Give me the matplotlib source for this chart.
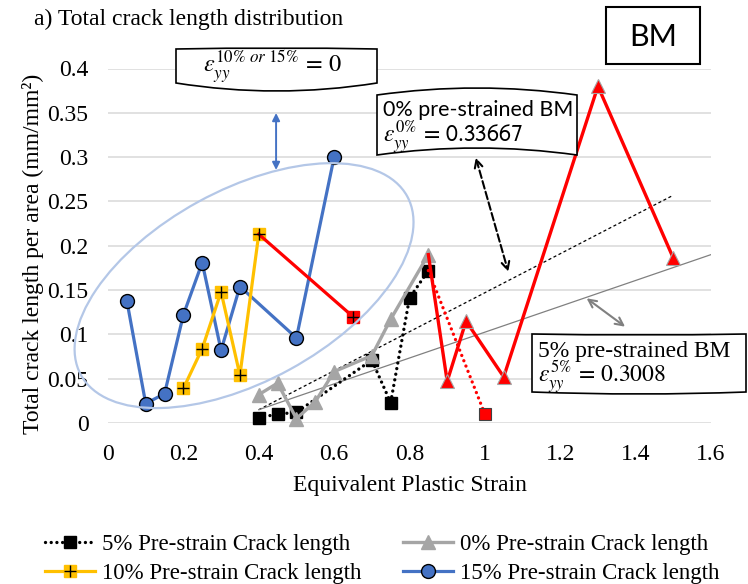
import matplotlib
matplotlib.use('Agg')
import matplotlib.pyplot as plt
from matplotlib.patches import Ellipse, PathPatch, Rectangle
from matplotlib.path import Path
from matplotlib.transforms import ScaledTranslation
from matplotlib.lines import Line2D
from matplotlib.ticker import FuncFormatter, MultipleLocator

plt.rcParams['font.family'] = ['Liberation Serif', 'DejaVu Serif']
plt.rcParams['mathtext.fontset'] = 'stix'

# ---------------- data ----------------
x5 = [0.4, 0.45, 0.5, 0.7, 0.75, 0.8, 0.85]
y5 = [0.006, 0.010, 0.012, 0.071, 0.023, 0.141, 0.172]
x5_red = [0.85, 1.0]
y5_red = [0.172, 0.010]

x0 = [0.4, 0.45, 0.5, 0.55, 0.6, 0.7, 0.75, 0.85]
y0 = [0.032, 0.045, 0.005, 0.024, 0.058, 0.076, 0.117, 0.190]
x0_red = [0.85, 0.9, 0.95, 1.05, 1.3, 1.5]
y0_red = [0.190, 0.047, 0.115, 0.052, 0.380, 0.186]

x10 = [0.2, 0.25, 0.3, 0.35, 0.4]
y10 = [0.039, 0.084, 0.148, 0.054, 0.213]
x10_red = [0.4, 0.65]
y10_red = [0.213, 0.120]

x15 = [0.05, 0.1, 0.15, 0.2, 0.25, 0.3, 0.35, 0.5, 0.6]
y15 = [0.138, 0.022, 0.033, 0.122, 0.181, 0.082, 0.154, 0.096, 0.300]

trend0_x = [0.4, 1.5]
trend0_y = [0.015, 0.257]
trend5_x = [0.4, 1.6]
trend5_y = [0.015, 0.190]

labels = ['5% Pre-strain Crack length', '10% Pre-strain Crack length',
          '0% Pre-strain Crack length', '15% Pre-strain Crack length']

BLUE = '#4472C4'
YEL = '#FFC000'
GRAY = '#A5A5A5'
RED = '#FF0000'

W, H = 748, 584
fig = plt.figure(figsize=(W / 100, H / 100), dpi=100)
ax = fig.add_axes([108 / W, 1 - 423 / H, (711 - 108) / W, (423 - 68.5) / H])

def fp(x, y):
    return (x / W, 1 - y / H)

ax.set_xlim(0, 1.6)
ax.set_ylim(0, 0.4)
for s in ax.spines.values():
    s.set_visible(False)
ax.yaxis.set_major_locator(MultipleLocator(0.05))
ax.xaxis.set_major_locator(MultipleLocator(0.2))
fmt = FuncFormatter(lambda v, p: ('%.2f' % v).rstrip('0').rstrip('.') if v != 0 else '0')
ax.xaxis.set_major_formatter(fmt)
ax.yaxis.set_major_formatter(fmt)
ax.tick_params(axis='both', length=0, labelsize=17)
ax.tick_params(axis='y', pad=14)
ax.tick_params(axis='x', pad=15)
ax.grid(axis='y', color='#D9D9D9', lw=1.1)
ax.set_axisbelow(True)
ax.set_xlabel('Equivalent Plastic Strain', fontsize=17, labelpad=7)
ax.set_ylabel('Total crack length per area (mm/mm\u00b2)', fontsize=17)
ax.yaxis.set_label_coords(-0.106, 0.477)

# trend lines
ax.plot(trend0_x, trend0_y, color='black', lw=0.9, ls=(0, (2.5, 2)), zorder=3)
ax.plot(trend5_x, trend5_y, color='#808080', lw=0.9, zorder=3)

# 15% series
ax.plot(x15, y15, color=BLUE, lw=2.3, marker='o', ms=10, mfc=BLUE, mec='black',
        mew=1.0, zorder=4, clip_on=False)
# 10% series
ax.plot(x10, y10, color=YEL, lw=2.3, marker='s', ms=9, mfc=YEL, mec=YEL, zorder=5, clip_on=False)
ax.plot(x10, y10, ls='none', marker='+', ms=9, mec='black', mew=1.0, zorder=5.1, clip_on=False)
ax.plot(x10_red, y10_red, color=RED, lw=2.3, zorder=5)
ax.plot(x10_red[1:], y10_red[1:], ls='none', marker='s', ms=9, mfc=RED, mec=RED, zorder=5.2)
ax.plot(x10_red[1:], y10_red[1:], ls='none', marker='+', ms=9, mec='black', mew=1.0, zorder=5.3)
# 5% series
ax.plot(x5, y5, color='black', lw=2.4, ls=(0, (0.01, 1.7)), dash_capstyle='round',
        marker='s', ms=8, mfc='black', mec='black', zorder=6, clip_on=False)
ax.plot(x5_red, y5_red, color=RED, lw=2.4, ls=(0, (0.01, 1.7)), dash_capstyle='round', zorder=6)
ax.plot(x5_red[1:], y5_red[1:], ls='none', marker='s', ms=8, mfc=RED, mec='#404040',
        mew=0.8, zorder=6.1, clip_on=False)
# 0% series
ax.plot(x0, y0, color=GRAY, lw=2.4, marker='^', ms=10.5, mfc=GRAY, mec=GRAY, zorder=7, clip_on=False)
ax.plot(x0_red, y0_red, color=RED, lw=2.4, zorder=7.5)
ax.plot(x0_red[1:], y0_red[1:], ls='none', marker='^', ms=10.5, mfc=RED, mec=GRAY, mew=0.8,
        zorder=7.6, clip_on=False)

# ellipse around 10%/15% data (drawn in inches around a data-anchored centre)
ell_t = fig.dpi_scale_trans + ScaledTranslation(0.361, 0.155, ax.transData)
ax.add_patch(Ellipse((0, 0), 3.72, 1.91, angle=28.7, fill=False, ec='#B4C7E7', lw=1.6,
                     transform=ell_t, zorder=9, clip_on=False))

# arrows
ax.annotate('', xy=(0.446, 0.2855), xytext=(0.446, 0.3498),
            arrowprops=dict(arrowstyle='<|-|>', color=BLUE, lw=1.4, mutation_scale=11,
                            shrinkA=0, shrinkB=0), zorder=10)
ax.annotate('', xy=(1.062, 0.1707), xytext=(0.976, 0.2994),
            arrowprops=dict(arrowstyle='<->', color='black', lw=1.5, ls='--',
                            mutation_scale=14, shrinkA=0, shrinkB=0), zorder=10)
ax.annotate('', xy=(1.372, 0.1087), xytext=(1.27, 0.1407),
            arrowprops=dict(arrowstyle='<->', color='#808080', lw=1.5,
                            mutation_scale=14, shrinkA=0, shrinkB=0), zorder=10)

# wavy text boxes (in pixel coords)
def wavy_box(x0p, x1p, ytop, ybot, top_bow, bot_bow):
    xm = (x0p + x1p) / 2
    verts = [fp(x0p, ytop), fp(xm, ytop + 2 * top_bow), fp(x1p, ytop),
             fp(x1p, ybot), fp(xm, ybot + 2 * bot_bow), fp(x0p, ybot), fp(x0p, ytop)]
    codes = [Path.MOVETO, Path.CURVE3, Path.CURVE3, Path.LINETO, Path.CURVE3, Path.CURVE3,
             Path.CLOSEPOLY]
    fig.add_artist(PathPatch(Path(verts, codes), fc='white', ec='black', lw=1.2,
                             transform=fig.transFigure, zorder=20))

wavy_box(176, 377, 49, 83, -1, 8)
fig.text(*fp(273, 67), r'$\varepsilon_{yy}^{10\%\ or\ 15\%}\,=\,0$', fontsize=17.5,
         ha='center', va='center', zorder=21)

wavy_box(377, 577, 95, 155, -7, -7)
fig.text(*fp(383, 110), '0% pre-strained BM', family='Lato', fontsize=15.5,
         ha='left', va='center', zorder=21)
fig.text(*fp(383, 137), r'$\varepsilon_{yy}^{0\%}\,=\,\mathsf{0.33667}$', fontsize=17,
         ha='left', va='center', zorder=21)

wavy_box(532, 746, 334, 392, 1, 2)
fig.text(*fp(538, 351), '5% pre-strained BM', fontsize=17, ha='left', va='center', zorder=21)
fig.text(*fp(538, 377), r'$\varepsilon_{yy}^{5\%}\,=\,0.3008$', fontsize=17,
         ha='left', va='center', zorder=21)

fig.add_artist(Rectangle(fp(606, 64), 94 / W, 57 / H, fc='white', ec='black', lw=1.5,
                         transform=fig.transFigure, zorder=20))
fig.text(*fp(653, 37), 'BM', family='Lato', fontsize=22, ha='center', va='center', zorder=21)

# title
fig.text(*fp(34, 19), 'a) Total crack length distribution', fontsize=17, ha='left', va='center')

# legend
h5 = Line2D([], [], color='black', lw=2.4, ls=(0, (0.01, 1.7)), dash_capstyle='round',
            marker='s', ms=8, mfc='black', mec='black')
h10 = (Line2D([], [], color=YEL, lw=2.3, marker='s', ms=9, mfc=YEL, mec=YEL),
       Line2D([], [], ls='none', marker='+', ms=9, mec='black', mew=1.0))
h0 = Line2D([], [], color=GRAY, lw=2.4, marker='^', ms=10.5, mfc=GRAY, mec=GRAY)
h15 = Line2D([], [], color=BLUE, lw=2.3, marker='o', ms=10, mfc=BLUE, mec='black', mew=1.0)
fig.legend([h5, h10, h0, h15], labels, ncol=2, loc='center',
           bbox_to_anchor=fp(382, 559), frameon=False, fontsize=16.5,
           handlelength=2.2, handletextpad=0.3, columnspacing=1.8, labelspacing=0.38,
           borderpad=0, numpoints=1)

fig.savefig('out.png', dpi=100)
